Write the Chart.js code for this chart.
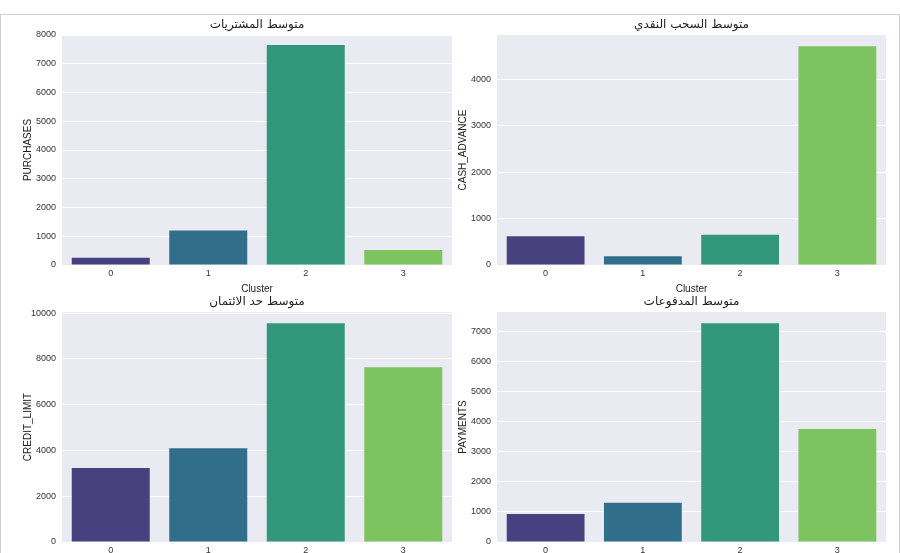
<!DOCTYPE html>
<html>
<head>
<meta charset="utf-8">
<script src="https://cdn.jsdelivr.net/npm/chart.js@4"></script>
<style>
  body { margin: 0; width: 900px; height: 553px; overflow: hidden; background: #fff; font-family: "DejaVu Sans", Arial, sans-serif; }
  .frame { position: absolute; left: 0; top: 14px; width: 898px; height: 545px; border: 1px solid #d0d0d0; }
  .box { position: absolute; }
</style>
</head>
<body>
<div class="frame"></div>
<div class="box" style="left:0;top:14px;width:460px;height:281px"><canvas id="c1"></canvas></div>
<div class="box" style="left:435px;top:14px;width:459px;height:281px"><canvas id="c2"></canvas></div>
<div class="box" style="left:0;top:291px;width:460px;height:281px"><canvas id="c3"></canvas></div>
<div class="box" style="left:435px;top:291px;width:459px;height:281px"><canvas id="c4"></canvas></div>
<script>
// Cluster categories and per-cluster averages
const clusters = ["0", "1", "2", "3"];
const purchases = [250, 1200, 7650, 520];
const cashAdvance = [620, 190, 650, 4710];
const creditLimit = [3230, 4100, 9560, 7640];
const payments = [930, 1300, 7270, 3750];

const barColors = ["#48417f", "#316e89", "#33987b", "#7dc35f"];

// paint the seaborn-like grey plot background and a title centred over the plot area
const bgPlugin = {
  id: "plotBg",
  beforeDraw(chart) {
    const a = chart.chartArea;
    const ctx = chart.ctx;
    ctx.save();
    ctx.fillStyle = "#eaeaf2";
    ctx.fillRect(a.left, a.top, a.right - a.left, a.bottom - a.top);
    ctx.fillStyle = "#222";
    ctx.font = '12px "DejaVu Sans"';
    ctx.textAlign = "center";
    ctx.textBaseline = "middle";
    ctx.fillText(chart.options.plotTitle, (a.left + a.right) / 2, a.top - 10);
    ctx.restore();
  },
};

function makeChart(id, title, yLabel, values, yMax, yStep, showX) {
  new Chart(document.getElementById(id), {
    type: "bar",
    data: {
      labels: clusters,
      datasets: [{ data: values, backgroundColor: barColors, categoryPercentage: 0.8, barPercentage: 1 }],
    },
    options: {
      plotTitle: title,
      responsive: true,
      maintainAspectRatio: false,
      animation: false,
      layout: { padding: { right: 8, left: 22, top: 21 } },
      plugins: {
        legend: { display: false },
        tooltip: { enabled: false },
      },
      scales: {
        x: {
          grid: { display: false, drawTicks: false },
          border: { display: false },
          ticks: { color: "#333", font: { size: 9 }, padding: 3 },
          title: { display: showX, text: "Cluster", color: "#222", font: { size: 10 }, padding: 0 },
          afterFit(scale) { scale.height = 30; },
        },
        y: {
          min: 0,
          max: yMax,
          grid: { color: "#ffffff", lineWidth: 1, drawTicks: false },
          border: { display: false },
          ticks: {
            color: "#333",
            font: { size: 9 },
            padding: 6,
            callback: (v) => String(v),
          },
          afterBuildTicks(scale) {
            const t = [];
            for (let v = 0; v <= yMax; v += yStep) t.push({ value: v });
            scale.ticks = t;
          },
          title: { display: true, text: yLabel, color: "#222", font: { size: 10 }, padding: 0 },
          afterFit(scale) { scale.width = 40; },
        },
      },
    },
    plugins: [bgPlugin],
  });
}

makeChart("c1", "متوسط المشتريات", "PURCHASES", purchases, 8000, 1000, true);
makeChart("c2", "متوسط السحب النقدي", "CASH_ADVANCE", cashAdvance, 4950, 1000, true);
makeChart("c3", "متوسط حد الائتمان", "CREDIT_LIMIT", creditLimit, 10050, 2000, false);
makeChart("c4", "متوسط المدفوعات", "PAYMENTS", payments, 7640, 1000, false);
</script>
</body>
</html>
